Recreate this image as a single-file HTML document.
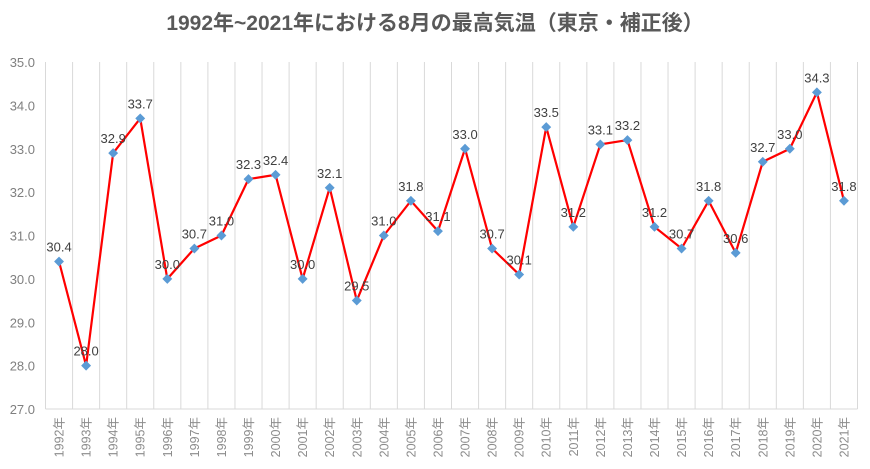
<!DOCTYPE html>
<html><head><meta charset="utf-8"><style>
body{margin:0;background:#fff;}
svg{display:block;font-family:"Liberation Sans","Noto Sans CJK JP",sans-serif;}
</style></head><body>
<svg id="c" width="870" height="469">
<text x="435" y="30" text-anchor="middle" font-size="21" font-weight="bold" fill="#595959">1992年~2021年における8月の最高気温（東京・補正後）</text>
</svg>
<script>
const years=["1992年","1993年","1994年","1995年","1996年","1997年","1998年","1999年","2000年","2001年","2002年","2003年","2004年","2005年","2006年","2007年","2008年","2009年","2010年","2011年","2012年","2013年","2014年","2015年","2016年","2017年","2018年","2019年","2020年","2021年"];
const temps=[30.4,28.0,32.9,33.7,30.0,30.7,31.0,32.3,32.4,30.0,32.1,29.5,31.0,31.8,31.1,33.0,30.7,30.1,33.5,31.2,33.1,33.2,31.2,30.7,31.8,30.6,32.7,33.0,34.3,31.8];
const yTicks=[27,28,29,30,31,32,33,34,35];
const svg=document.getElementById('c');const NS='http://www.w3.org/2000/svg';
const L=45.5,R=857.5,T=62,B=409,ymin=27,ymax=35;
const bw=(R-L)/years.length;
const xs=i=>L+bw*(i+0.5);
const ys=v=>B-(v-ymin)/(ymax-ymin)*(B-T);
function mk(t,a){const e=document.createElementNS(NS,t);for(const k in a)e.setAttribute(k,a[k]);svg.appendChild(e);return e;}
for(let i=0;i<=years.length;i++){const x=L+bw*i;
const g=mk('line',{x1:x,x2:x,y1:T,y2:B,stroke:'#d9d9d9','stroke-width':1});

}
const ax=mk('line',{x1:L,x2:R,y1:B,y2:B,stroke:'#d9d9d9','stroke-width':1});


yTicks.forEach(v=>{const t=mk('text',{x:35,y:ys(v)+5,'text-anchor':'end','font-size':13,fill:'#7f7f7f'});t.textContent=v.toFixed(1);

});
years.forEach((y,i)=>{const x=xs(i);const t=mk('text',{x:0,y:0,'text-anchor':'end','font-size':12.5,fill:'#8c8c8c',transform:`translate(${x+4.5},417) rotate(-90)`});t.textContent=y;

});
const pts=temps.map((v,i)=>xs(i)+','+ys(v)).join(' ');
const pl=mk('polyline',{points:pts,fill:'none',stroke:'#ff0000','stroke-width':2.2});


temps.forEach((v,i)=>{const x=xs(i),y=ys(v);
const m=mk('rect',{x:x-3.5,y:y-3.5,width:7,height:7,fill:'#5b9bd5',transform:`rotate(45 ${x} ${y})`});


const t=mk('text',{x:x,y:y-10,'text-anchor':'middle','font-size':13,fill:'#404040'});t.textContent=v.toFixed(1);

});
</script>
</body></html>
